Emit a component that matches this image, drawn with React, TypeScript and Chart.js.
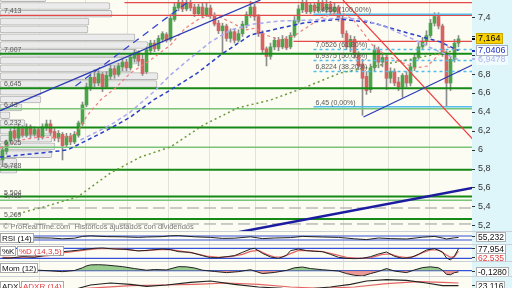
import React, { useEffect, useRef } from "react";
import { Chart, registerables } from "chart.js";

Chart.register(...registerables);

// ---------------- data ----------------
const candleOpen = [5.89,5.98,6.09,6.20,6.12,6.22,6.15,6.24,6.16,6.21, 6.13,6.23,6.27,6.19,6.12,6.16,6.05,6.14,6.08,6.15, 6.27,6.47,6.64,6.76,6.70,6.79,6.66,6.77,6.85,6.79, 6.87,6.92,6.86,6.96,7.02,6.95,6.82,7.04,7.12,7.06, 7.16,7.21,7.16,7.37,7.49,7.55,7.48,7.54,7.50,7.43, 7.50,7.42,7.49,7.41,7.33,7.25,7.30,7.17,7.24,7.15, 7.22,7.31,7.42,7.50,7.40,7.22,7.06,6.98,7.08,7.15, 7.08,7.16,7.08,7.20,7.35,7.47,7.54,7.45,7.52,7.46, 7.54,7.47,7.53,7.45,7.50,7.38,7.22,7.08,7.16,7.00, 6.90,6.77,6.63,6.86,7.05,6.92,6.97,6.75,6.82,6.71, 6.66,6.78,6.70,6.86,6.97,7.08,7.14,7.20,7.33,7.40, 7.30,7.02,6.70,6.95,7.12];
const candleHigh = [6.03,6.10,6.22,6.24,6.26,6.25,6.27,6.26,6.24,6.23, 6.27,6.31,6.31,6.22,6.20,6.18,6.17,6.17,6.19,6.30, 6.50,6.70,6.80,6.84,6.83,6.81,6.82,6.89,6.88,6.91, 6.95,6.95,7.00,7.05,7.04,7.00,7.08,7.15,7.15,7.20, 7.24,7.23,7.42,7.55,7.60,7.59,7.58,7.57,7.53,7.53, 7.54,7.54,7.52,7.44,7.36,7.33,7.32,7.27,7.27,7.26, 7.35,7.45,7.56,7.53,7.42,7.25,7.08,7.12,7.18,7.18, 7.20,7.19,7.23,7.40,7.52,7.58,7.57,7.55,7.55,7.58, 7.57,7.57,7.56,7.54,7.52,7.41,7.25,7.20,7.19,7.03, 6.95,6.82,6.90,7.10,7.08,7.00,7.00,6.86,6.85,6.76, 6.80,6.82,6.91,7.01,7.12,7.18,7.25,7.37,7.44,7.44, 7.32,7.04,6.98,7.16,7.20];
const candleLow = [5.82,5.95,6.07,6.10,6.10,6.13,6.13,6.12,6.14,6.10, 6.11,6.20,6.15,6.09,6.08,5.89,6.02,6.05,6.06,6.13, 6.25,6.45,6.62,6.66,6.67,6.61,6.64,6.74,6.75,6.77, 6.83,6.83,6.84,6.92,6.88,6.78,6.80,7.00,7.03,7.04, 7.13,7.13,7.14,7.35,7.46,7.45,7.46,7.46,7.40,7.41, 7.39,7.40,7.38,7.30,7.22,7.02,7.14,7.13,7.12,7.13, 7.19,7.28,7.39,7.36,7.19,7.02,6.88,6.95,7.05,7.04, 7.06,7.05,7.06,7.18,7.33,7.44,7.43,7.43,7.44,7.44, 7.45,7.44,7.42,7.42,7.35,7.18,7.05,7.03,6.96,6.84, 6.36,6.58,6.60,6.83,6.86,6.87,6.63,6.70,6.67,6.62, 6.55,6.66,6.67,6.83,6.95,7.05,7.10,7.18,7.30,7.27, 6.98,6.45,6.62,6.92,7.08];
const candleClose = [5.995,6.08,6.19,6.12,6.22,6.15,6.24,6.16,6.21,6.13, 6.24,6.27,6.18,6.12,6.17,6.04,6.14,6.08,6.16,6.28, 6.47,6.66,6.76,6.70,6.80,6.66,6.78,6.85,6.79,6.88, 6.92,6.86,6.97,7.02,6.93,6.80,7.05,7.12,7.06,7.17, 7.22,7.15,7.38,7.50,7.55,7.48,7.54,7.49,7.43,7.50, 7.42,7.49,7.42,7.32,7.25,7.30,7.17,7.24,7.15,7.22, 7.32,7.42,7.50,7.40,7.22,7.05,6.98,7.08,7.15,7.08, 7.16,7.07,7.20,7.36,7.48,7.54,7.45,7.52,7.46,7.54, 7.47,7.53,7.45,7.50,7.38,7.22,7.08,7.16,7.00,6.88, 6.75,6.62,6.86,7.05,6.92,6.97,6.75,6.82,6.70,6.66, 6.78,6.70,6.87,6.97,7.08,7.14,7.20,7.33,7.40,7.30, 7.02,6.70,6.95,7.12,7.164];

const monthStarts = [9.25, 20.75, 31.25, 41.5, 51.75, 63.25, 74, 85.25, 96.5, 106.75];
const priceTicks = [5.2, 5.4, 5.6, 5.8, 6, 6.2, 6.4, 6.6, 6.8, 7, 7.2, 7.4];

const greenLevels = [7.007, 6.645, 6.232, 5.788, 5.504, 5.269];
const lightGreenLevels = [6.43, 6.025, 5.466];
const grayDashedLevels = [5.384, 5.216];
const redLevels = [7.547, 7.413, 7.139];
const redLevelStarts = [30.5, -0.7, 72.75];
const levelLabelValues = [7.413, 7.007, 6.645, 6.43, 6.232, 6.025, 5.788, 5.504, 5.466, 5.269];
const levelLabels = ["7,413", "7,007", "6,645", "6,43", "6,232", "6,025", "5,788", "5,504", "5,466", "5,269"];

const fibStart = 77.75;
const fibLevels = [7.425, 7.0526, 6.9375, 6.8224, 6.45];
const fibLabels = ["7,4250 (100,00%)", "7,0526 (61,80%)", "6,9375 (50,00%)", "6,8224 (38,20%)", "6,45 (0,00%)"];

const volPrices = [7.593, 7.511, 7.429, 7.347, 7.265, 7.182, 7.100, 7.018, 6.936, 6.854, 6.772, 6.690, 6.608, 6.526, 6.443, 6.361, 6.279, 6.197, 6.115, 6.033, 5.951, 5.869, 5.787];
const volAmounts = [46, 110, 112, 89, 88, 135, 148, 137, 137, 131, 158, 157, 41, 41, 22, 10, 25, 52, 52, 55, 52, 17, 17];

const trendChannelLow = [[-0.7, 6.406], [64.5, 7.574]];
const trendChannelHigh = [[18.25, 6.669], [47, 7.574]];
const trendRecent = [[90.25, 6.342], [117.5, 6.890]];
const trendLongTerm = [[49.5, 5.054], [117.5, 5.595]];
const trendDown = [[85.1, 7.574], [117.5, 6.111]];

const maBluePts = [[-0.7, 5.92], [9.5, 5.963], [16.25, 5.995], [21.25, 6.10], [26.25, 6.206], [32, 6.342], [37.75, 6.521], [42, 6.627], [48.75, 6.806], [54.5, 6.995], [62, 7.206], [69.5, 7.279], [75.25, 7.332], [84.5, 7.374], [92.75, 7.332], [101.25, 7.227], [109.5, 7.132], [114, 7.0406]];
const maLavenderPts = [[19.5, 6.10], [27, 6.258], [32, 6.395], [37.75, 6.606], [42, 6.785], [47, 6.963], [52, 7.132], [57, 7.258], [62.75, 7.321], [69.5, 7.353], [77, 7.363], [84.5, 7.385], [89.5, 7.374], [95.25, 7.30], [102, 7.174], [108.25, 7.047], [114, 6.9478]];
const maRedPts = [[-0.7, 6.016], [4.5, 6.10], [9.5, 6.132], [14.5, 6.121], [18.25, 6.153], [21.25, 6.363], [24.5, 6.521], [28.25, 6.648], [32, 6.806], [37, 6.942], [42, 7.10], [45.75, 7.279], [49.5, 7.384], [53.25, 7.416], [57, 7.342], [60.75, 7.258], [63.25, 7.279], [65.75, 7.206], [69.5, 7.153], [73.25, 7.206], [76.25, 7.29], [79.5, 7.384], [84.5, 7.448], [87.75, 7.363], [90.25, 7.227], [92.5, 7.10], [95.75, 6.995], [99.5, 6.921], [103.25, 6.858], [106.25, 6.879], [109.5, 7.016], [111.25, 7.079], [114, 7.047]];
const maGreenPts = [[2.75, 5.311], [10.25, 5.395], [18.75, 5.50], [27, 5.753], [34.5, 5.921], [42, 6.027], [50.25, 6.258], [58.75, 6.437], [67, 6.521], [75.25, 6.648], [84.5, 6.806], [94.5, 6.89], [103.75, 6.963], [109.5, 7.016], [114, 7.047]];

const rsiPts = [[0,42],[4,55],[8,52],[12,50],[15,42],[18,48],[20,66],[22,72],[26,64],[30,62],[34,56],[36,60],[40,64],[42,72],[44,74],[48,62],[52,56],[55,46],[58,48],[62,62],[65,44],[68,50],[72,54],[75,66],[80,60],[84,56],[88,42],[91,34],[94,50],[97,44],[101,40],[105,58],[108,66],[110,50],[111,40],[113,52],[114,55.232]];
const stochKPts = [[0,22],[2,22],[5,30],[8,26],[11,40],[14,58],[17,64],[20,72],[23,80],[25,82],[28,76],[31,74],[34,64],[37,70],[40,76],[42,72],[44,60],[47,56],[50,36],[52,24],[54,24],[56,30],[58,36],[60,56],[62,76],[63,80],[65,50],[67,28],[69,20],[71,38],[72,66],[74,76],[76,66],[78,62],[80,60],[82,44],[84,26],[86,20],[88,18],[90,20],[92,30],[94,46],[96,58],[98,32],[100,20],[102,24],[104,44],[106,70],[108,78],[110,58],[111,22],[112,10],[113,34],[114,77.954]];
const stochDPts = [[0,26],[3,24],[6,28],[9,30],[12,38],[15,52],[18,62],[21,70],[24,78],[27,78],[30,75],[33,68],[36,66],[39,72],[42,72],[45,62],[48,50],[51,34],[54,26],[57,30],[60,44],[62,62],[64,68],[66,44],[68,28],[70,28],[72,48],[74,68],[77,66],[80,60],[83,44],[86,26],[89,20],[92,24],[95,44],[97,46],[99,30],[101,24],[103,32],[105,54],[107,70],[109,70],[111,40],[112,26],[113,30],[114,62.535]];
const momPts = [[0,0.02],[3,-0.05],[6,0.08],[9,0.05],[12,-0.02],[15,-0.1],[18,0.02],[20,0.3],[21,0.5],[22,0.6],[24,0.62],[26,0.58],[28,0.5],[30,0.42],[33,0.22],[36,0.05],[38,0.12],[41,0.08],[44,0.42],[46,0.4],[48,0.28],[50,0.05],[53,-0.08],[56,-0.2],[59,-0.1],[62,0.1],[65,-0.3],[68,-0.18],[71,0.03],[73,0.3],[75,0.38],[77,0.22],[80,0.1],[84,-0.04],[86,-0.3],[88,-0.48],[90,-0.55],[92,-0.3],[94,-0.08],[96,0.22],[98,-0.04],[101,-0.2],[103,0.08],[105,0.32],[107,0.4],[109,0.3],[110,0.05],[111,-0.38],[112,-0.42],[113,-0.2],[114,-0.128]];
const adxPts = [[0,20],[8,16],[16,14],[22,24],[27,27],[32,25],[36,22],[41,24],[47,28],[52,30],[58,25],[64,21],[70,19],[76,18],[82,21],[87,25],[91,30],[96,32],[101,31],[106,27],[110,23],[114,23.116]];
const adxrPts = [[0,22],[8,19],[16,17],[24,20],[32,23],[40,24],[48,25],[56,27],[64,25],[72,21],[80,19],[88,21],[96,26],[104,29],[110,28],[114,27]];

// ---------------- helpers ----------------
const FONT = '"Liberation Sans", Arial, sans-serif';
const X_MIN = -0.625;
const X_MAX = 117.375;
const PLOT_BG = "#fcfcf3";
const AXIS_BG = "#def6fa";
const GRID = "#e3e3dc";

const fmt = (v: number, d: number) => v.toFixed(d).replace(".", ",");

function drawBox(ctx: CanvasRenderingContext2D, x: number, yc: number, text: string, o: any) {
  ctx.font = o.font || `8px ${FONT}`;
  const w = Math.round(ctx.measureText(text).width + (o.padX ?? 2) * 2);
  const h = o.h || 10;
  const top = Math.round(yc - h / 2);
  if (o.bg) {
    ctx.fillStyle = o.bg;
    ctx.fillRect(x, top, w, h);
  }
  if (o.border) {
    ctx.strokeStyle = o.border;
    ctx.lineWidth = 1;
    ctx.strokeRect(x + 0.5, top + 0.5, w - 1, h - 1);
  }
  ctx.fillStyle = o.color || "#000";
  ctx.textBaseline = "middle";
  ctx.textAlign = "left";
  ctx.fillText(text, x + (o.padX ?? 2), top + h / 2 + 0.5);
  return w;
}

const bgPlugin = {
  id: "bgPlugin",
  beforeDraw(chart: any) {
    const { ctx, chartArea: a, width, height } = chart;
    ctx.save();
    ctx.fillStyle = AXIS_BG;
    ctx.fillRect(0, 0, width, height);
    ctx.fillStyle = PLOT_BG;
    ctx.fillRect(a.left, a.top, a.right - a.left, a.bottom - a.top);
    ctx.restore();
  },
};

const xScale = () => ({
  type: "linear",
  min: X_MIN,
  max: X_MAX,
  offset: false,
  display: true,
  ticks: { display: false },
  grid: { color: GRID, drawTicks: false, lineWidth: 1, offset: false },
  border: { display: false },
  afterBuildTicks: (s: any) => {
    s.ticks = monthStarts.map((v) => ({ value: v }));
  },
  afterFit: (s: any) => {
    s.height = 0;
    s.paddingLeft = 0;
    s.paddingRight = 0;
  },
});

const subY = (min: number, max: number) => ({
  type: "linear",
  position: "right",
  min,
  max,
  offset: false,
  ticks: { display: false },
  grid: { display: false, offset: false },
  border: { display: false },
  afterFit: (s: any) => {
    s.width = 40;
    s.paddingTop = 0;
    s.paddingBottom = 0;
  },
});

const line = (pts: number[][], color: string, width: number, dash: number[] = [], order = 5, extra: any = {}) => ({
  type: "line",
  data: pts.map(([x, y]) => ({ x, y })),
  borderColor: color,
  borderWidth: width,
  borderDash: dash,
  pointRadius: 0,
  fill: false,
  tension: 0,
  order,
  xAxisID: "x",
  yAxisID: "y",
  ...extra,
});

const baseOptions = (scales: any) => ({
  responsive: false,
  animation: false,
  devicePixelRatio: 1,
  events: [],
  layout: { padding: 0, autoPadding: false },
  plugins: { legend: { display: false }, tooltip: { enabled: false } },
  scales,
});

// ---------------- main chart ----------------
function buildMain() {
  const datasets: any[] = [];
  datasets.push({
    type: "bar",
    indexAxis: "y",
    xAxisID: "xv",
    yAxisID: "y",
    data: volPrices.map((p, k) => ({ x: volAmounts[k], y: p })),
    backgroundColor: "#ebebeb",
    borderColor: "#b4b4b4",
    borderWidth: 1,
    borderRadius: 2,
    borderSkipped: false,
    barThickness: 7,
    grouped: false,
    order: 20,
  });
  datasets.push({
    type: "bar",
    xAxisID: "x",
    yAxisID: "y",
    data: candleOpen.map((_, i) => ({ x: i, y: [candleLow[i], candleHigh[i]] })),
    backgroundColor: "#8c8c8c",
    borderWidth: 0,
    barThickness: 1,
    grouped: false,
    order: 19,
  });
  datasets.push({
    type: "bar",
    xAxisID: "x",
    yAxisID: "y",
    data: candleOpen.map((o, i) => ({ x: i, y: [o, candleClose[i]] })),
    backgroundColor: candleOpen.map((o, i) => (candleClose[i] >= o ? "#4aa54a" : "#d66262")),
    borderWidth: 0,
    barThickness: 3,
    grouped: false,
    order: 18,
  });
  greenLevels.forEach((v) => datasets.push(line([[X_MIN, v], [X_MAX, v]], "#168a16", 2, [], 8)));
  lightGreenLevels.forEach((v) => datasets.push(line([[X_MIN, v], [X_MAX, v]], "#79c479", 1.5, [], 8)));
  grayDashedLevels.forEach((v) => datasets.push(line([[X_MIN, v], [X_MAX, v]], "#9a9a9a", 1, [12, 5], 8)));
  redLevels.forEach((v, k) => datasets.push(line([[redLevelStarts[k], v], [X_MAX, v]], "#e24a4a", 1.3, [], 8)));
  fibLevels.forEach((v, k) =>
    datasets.push(line([[fibStart, v], [X_MAX, v]], "#52bdea", 1.5, k === 0 || k === fibLevels.length - 1 ? [] : [3, 3], 7))
  );
  datasets.push(line(maGreenPts, "#6b9a3c", 1.5, [2, 3], 6));
  datasets.push(line(maLavenderPts, "#a9a9f2", 1.5, [4, 3], 6));
  datasets.push(line(maBluePts, "#2a3ec8", 1.5, [4, 3], 6));
  datasets.push(line(maRedPts, "#f07c7c", 1.2, [3, 3], 6));
  datasets.push(line(trendChannelLow, "#2b3bb5", 1.3, [], 4));
  datasets.push(line(trendChannelHigh, "#3344cc", 1.3, [7, 5], 4));
  datasets.push(line(trendRecent, "#2b3bb5", 1.2, [], 4));
  datasets.push(line(trendLongTerm, "#1c1ca0", 2.5, [], 4));
  datasets.push(line(trendDown, "#f03c3c", 1.2, [], 4));

  const overlay = {
    id: "mainOverlay",
    afterDatasetsDraw(chart: any) {
      const { ctx, scales, chartArea } = chart;
      const x = scales.x;
      const y = scales.y;
      ctx.save();
      ctx.textBaseline = "middle";
      ctx.textAlign = "left";
      ctx.font = `7px ${FONT}`;
      ctx.fillStyle = "#5a5a5a";
      levelLabelValues.forEach((v, k) => ctx.fillText(levelLabels[k], 4, y.getPixelForValue(v) - 4));
      const fx = x.getPixelForValue(fibStart) + 2;
      fibLevels.forEach((v, k) => ctx.fillText(fibLabels[k], fx, y.getPixelForValue(v) - 4));
      ctx.font = `7.5px ${FONT}`;
      ctx.fillStyle = "#7a7a7a";
      ctx.fillText("© ProRealTime.com  Históricos ajustados con dividendos", 3, chartArea.bottom - 4);
      ctx.restore();
    },
    afterDraw(chart: any) {
      const { ctx, scales, chartArea } = chart;
      const y = scales.y;
      ctx.save();
      ctx.font = `9px ${FONT}`;
      ctx.fillStyle = "#333";
      ctx.textBaseline = "middle";
      ctx.textAlign = "left";
      priceTicks.forEach((v) => {
        const py = y.getPixelForValue(v);
        ctx.fillRect(chartArea.right, Math.round(py), 3, 1);
        ctx.fillText(String(v).replace(".", ","), chartArea.right + 6, py + 0.5);
      });
      const bx = chartArea.right + 4;
      const items = [
        { v: maLavenderPts[maLavenderPts.length - 1][1], d: 4, color: "#b4b4ee", bg: "rgba(255,255,255,0.55)", border: null, tick: "#b4b4ee" },
        { v: maBluePts[maBluePts.length - 1][1], d: 4, color: "#2035c0", bg: "#ffffff", border: "#a8b0c0", tick: "#2035c0" },
        { v: candleClose[candleClose.length - 1], d: 3, color: "#000", bg: "#f7d200", border: "#c8a800", tick: "#000" },
      ];
      items.forEach((it) => {
        const yc = y.getPixelForValue(it.v);
        ctx.fillStyle = it.tick;
        ctx.fillRect(chartArea.right, Math.round(yc) - 1, 3, 2);
        drawBox(ctx, bx, yc, fmt(it.v, it.d), { font: `9px ${FONT}`, h: 11, bg: it.bg, border: it.border, color: it.color, padX: 2 });
      });
      ctx.restore();
    },
  };

  return {
    data: { datasets },
    options: baseOptions({
      x: xScale(),
      xv: { type: "linear", axis: "x", display: false, min: 0, max: 472, offset: false },
      y: {
        type: "linear",
        position: "right",
        min: 5.142,
        max: 7.574,
        offset: false,
        ticks: { display: false },
        grid: { display: false, offset: false },
        border: { display: false },
        afterFit: (s: any) => {
          s.width = 40;
          s.paddingTop = 0;
          s.paddingBottom = 0;
        },
      },
    }),
    plugins: [bgPlugin, overlay],
  };
}

// ---------------- sub panels ----------------
function subOverlay(labels: any[], labelY: number, values: any[]) {
  return {
    id: "subOverlay",
    afterDraw(chart: any) {
      const { ctx, scales, chartArea } = chart;
      const y = scales.y;
      ctx.save();
      let x0 = 0;
      labels.forEach((l) => {
        const w = drawBox(ctx, x0, labelY, l.text, { font: `8px ${FONT}`, h: 10, bg: "#ffffff", border: "#a9a9a9", color: l.color, padX: 2 });
        x0 += w + 1;
      });
      let prev = -Infinity;
      values.forEach((v) => {
        let yc = y.getPixelForValue(v.value);
        if (yc < prev + 9) yc = prev + 9;
        ctx.fillStyle = "#333";
        ctx.fillRect(chartArea.right, Math.round(yc) - 1, 3, 1);
        drawBox(ctx, chartArea.right + 4, yc, v.text, { font: `8.5px ${FONT}`, h: 10, bg: "#ffffff", border: "#b0b0b0", color: v.color, padX: 2 });
        prev = yc;
      });
      ctx.restore();
    },
  };
}

const levelLine = (v: number, color = "#3550d8") => line([[X_MIN, v], [X_MAX, v]], color, 1.2, [], 9);
const last = (pts: number[][]) => pts[pts.length - 1][1];

function buildRsi() {
  return {
    data: { datasets: [levelLine(70), levelLine(30), line(rsiPts, "#222", 1, [], 2)] },
    options: baseOptions({ x: xScale(), y: subY(-10, 110) }),
    plugins: [bgPlugin, subOverlay([{ text: "RSI (14)", color: "#111" }], 5.5, [{ value: last(rsiPts), text: fmt(last(rsiPts), 3), color: "#111" }])],
  };
}

function buildStoch() {
  return {
    data: { datasets: [levelLine(80), levelLine(20), line(stochDPts, "#e46464", 1.2, [], 3), line(stochKPts, "#222", 1, [], 2)] },
    options: baseOptions({ x: xScale(), y: subY(4, 100) }),
    plugins: [
      bgPlugin,
      subOverlay(
        [{ text: "%K", color: "#111" }, { text: "%D (14,3,5)", color: "#e03c3c" }],
        6,
        [
          { value: last(stochKPts), text: fmt(last(stochKPts), 3), color: "#111" },
          { value: last(stochDPts), text: fmt(last(stochDPts), 3), color: "#e03c3c" },
        ]
      ),
    ],
  };
}

function buildMom() {
  return {
    data: {
      datasets: [
        levelLine(0),
        line(momPts, "#222", 1, [], 2, {
          fill: { target: { value: 0 }, above: "rgba(120,190,110,0.75)", below: "rgba(232,120,120,0.75)" },
        }),
      ],
    },
    options: baseOptions({ x: xScale(), y: subY(-0.55, 0.9) }),
    plugins: [bgPlugin, subOverlay([{ text: "Mom (12)", color: "#111" }], 6, [{ value: last(momPts), text: fmt(last(momPts), 4), color: "#111" }])],
  };
}

function buildAdx() {
  return {
    data: { datasets: [line(adxrPts, "#e46464", 1.2, [], 3), line(adxPts, "#222", 1.2, [], 2)] },
    options: baseOptions({ x: xScale(), y: subY(0, 36) }),
    plugins: [
      bgPlugin,
      subOverlay(
        [{ text: "ADX", color: "#111" }, { text: "ADXR (14)", color: "#e03c3c" }],
        9,
        [{ value: last(adxPts), text: fmt(last(adxPts), 3), color: "#111" }]
      ),
    ],
  };
}

function ChartPanel({ top, height, build }: { top: number; height: number; build: () => any }) {
  const ref = useRef<HTMLCanvasElement>(null);
  useEffect(() => {
    const cfg = build();
    const chart = new Chart(ref.current as HTMLCanvasElement, cfg as any);
    return () => chart.destroy();
  }, []);
  return (
    <canvas
      ref={ref}
      width={512}
      height={height}
      style={{ position: "absolute", left: 0, top, width: 512, height, display: "block" }}
    />
  );
}

export default function App() {
  return (
    <div
      style={{
        position: "fixed",
        left: 0,
        top: 0,
        width: 512,
        height: 288,
        overflow: "hidden",
        background: "#c9d0d8",
      }}
    >
      <ChartPanel top={0} height={231} build={buildMain} />
      <ChartPanel top={232} height={12} build={buildRsi} />
      <ChartPanel top={245} height={16} build={buildStoch} />
      <ChartPanel top={262} height={14} build={buildMom} />
      <ChartPanel top={277} height={24} build={buildAdx} />
    </div>
  );
}
